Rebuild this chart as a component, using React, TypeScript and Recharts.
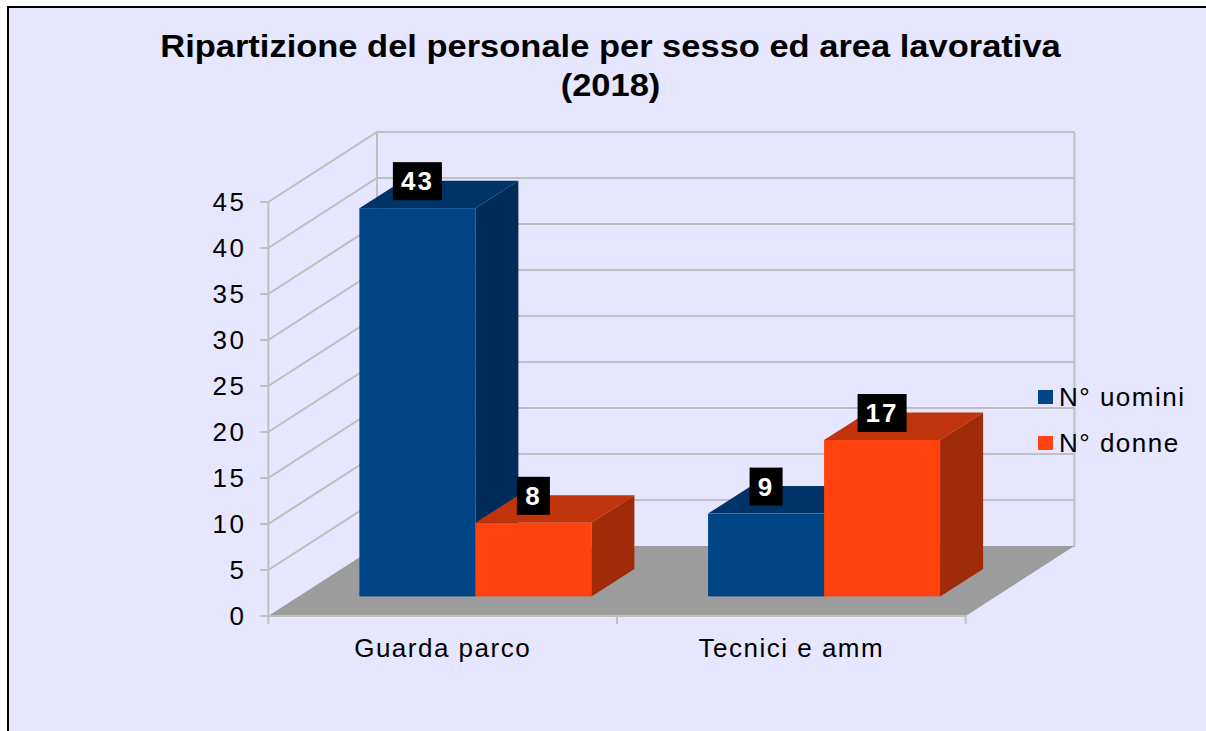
import { Bar, BarChart, LabelList, Legend, ReferenceLine, XAxis, YAxis } from "recharts";

const categories = ["Guarda parco", "Tecnici e amm"];
const uomini = [42.2, 9];
const donne = [8, 17];
// printed labels: the first blue bar is drawn a bit shorter than its label says
const uominiLabels = ["43", "9"];
const donneLabels = ["8", "17"];
const yTicks = [0, 5, 10, 15, 20, 25, 30, 35, 40, 45];

const data = categories.map((name, i) => ({
  name,
  uomini: uomini[i],
  donne: donne[i],
  uominiLabel: uominiLabels[i],
  donneLabel: donneLabels[i],
}));

const BG = "#e6e6ff";
const GRID = "#bfbfbf";
const FLOOR = "#9c9c9c";
const FONT = "'Liberation Sans', Arial, sans-serif";

// perspective offsets, wall = full depth of the box, bar = where bars stand
const WALL_DX = 108.7;
const WALL_DY = -70;
const BAR_DX = 33.2;
const BAR_DY = -19.6;
const DEPTH_DX = 43;
const DEPTH_DY = -27.5;

function WallLine(props: any) {
  const { x1, y1, x2 } = props;
  return (
    <polyline
      points={`${x1},${y1} ${x1 + WALL_DX},${y1 + WALL_DY} ${x2 + WALL_DX},${y1 + WALL_DY}`}
      fill="none"
      stroke={GRID}
      strokeWidth={2}
    />
  );
}

function Floor(props: any) {
  const { x1, y1, x2 } = props;
  const top = y1 + WALL_DY;
  const mid = (x1 + x2) / 2;
  return (
    <g>
      <polygon
        points={`${x1},${y1} ${x1 + WALL_DX},${top} ${x2 + WALL_DX},${top} ${x2},${y1}`}
        fill={FLOOR}
      />
      <line x1={x1} y1={y1} x2={x2} y2={y1} stroke={GRID} strokeWidth={2} />
      {[x1, mid, x2].map((x) => (
        <line key={x} x1={x} y1={y1} x2={x} y2={y1 + 8} stroke={GRID} strokeWidth={2} />
      ))}
    </g>
  );
}

function BackEdges(props: any) {
  const { x1, y1, x2 } = props;
  const top = y1 + WALL_DY;
  const bottom = top + 416 - 1;
  return (
    <g stroke={GRID} strokeWidth={2} fill="none">
      <line x1={x1 + WALL_DX} y1={top} x2={x1 + WALL_DX} y2={bottom} />
      <line x1={x2 + WALL_DX} y1={top} x2={x2 + WALL_DX} y2={bottom} />
    </g>
  );
}

function Box3D(props: any) {
  const { x, y, width, height, fill, topFill, sideFill } = props;
  const l = x + BAR_DX;
  const r = l + width;
  const t = y + BAR_DY;
  const b = t + height;
  return (
    <g>
      <polygon points={`${l},${t} ${l + DEPTH_DX},${t + DEPTH_DY} ${r + DEPTH_DX},${t + DEPTH_DY} ${r},${t}`} fill={topFill} />
      <polygon points={`${r},${t} ${r + DEPTH_DX},${t + DEPTH_DY} ${r + DEPTH_DX},${b + DEPTH_DY} ${r},${b}`} fill={sideFill} />
      <rect x={l} y={t} width={width} height={height} fill={fill} />
    </g>
  );
}

function ValueTag(props: any) {
  const box = props.viewBox ?? props;
  const text = String(props.value);
  const cx = box.x + box.width / 2 + BAR_DX;
  const cy = box.y + BAR_DY - 27;
  const w = text.length > 1 ? 49 : 33;
  return (
    <g>
      <rect x={cx - w / 2} y={cy - 19} width={w} height={38} fill="#000" />
      <text
        x={cx}
        y={cy + 9}
        textAnchor="middle"
        fill="#fff"
        fontFamily={FONT}
        fontWeight="bold"
        fontSize={26}
        letterSpacing={2}
      >
        {text}
      </text>
    </g>
  );
}

function LegendBox({ payload }: any) {
  return (
    <div style={{ fontFamily: FONT, fontSize: 26, letterSpacing: 1.5, color: "#000" }}>
      {(payload ?? []).map((p: any) => (
        <div key={p.value} style={{ display: "flex", alignItems: "center", height: 46 }}>
          <span style={{ width: 15, height: 14, background: p.color, marginRight: 6 }} />
          <span>{p.value}</span>
        </div>
      ))}
    </div>
  );
}

export default function App() {
  return (
    <div style={{ position: "absolute", left: 0, top: 0, width: 1206, height: 731, background: "#fff", overflow: "hidden" }}>
      <div
        style={{
          position: "absolute",
          left: 7,
          top: 6,
          width: 1210,
          height: 740,
          background: BG,
          border: "2px solid #000",
        }}
      />
      <div
        style={{
          position: "absolute",
          left: 0,
          top: 27,
          width: 1221,
          textAlign: "center",
          fontFamily: FONT,
          fontWeight: "bold",
          fontSize: 31,
          lineHeight: "39px",
          transform: "scaleX(1.112)",
          color: "#000",
        }}
      >
        Ripartizione del personale per sesso ed area lavorativa
        <br />
        (2018)
      </div>
      <div style={{ position: "absolute", left: 0, top: 0 }}>
        <BarChart
          width={1206}
          height={731}
          data={data}
          margin={{ top: 202, right: 240.3, bottom: 85, left: 208.3 }}
          barCategoryGap="16.6%"
          barGap={0}
        >
          <XAxis
            dataKey="name"
            height={30}
            axisLine={false}
            tickLine={false}
            tickMargin={17}
            tick={{ fontFamily: FONT, fontSize: 26, letterSpacing: 1.5, fill: "#000" }}
            interval={0}
          />
          <YAxis
            width={60}
            domain={[0, 45]}
            ticks={yTicks}
            interval={0}
            stroke={GRID}
            strokeWidth={2}
            tickSize={8}
            tickMargin={14}
            tick={{ fontFamily: FONT, fontSize: 26, letterSpacing: 2.4, fill: "#000" }}
          />
          {yTicks
            .filter((t) => t > 0)
            .map((t) => (
              <ReferenceLine key={t} y={t} shape={WallLine} zIndex={-200} />
            ))}
          <ReferenceLine y={45} shape={BackEdges} zIndex={-200} />
          <ReferenceLine y={0} shape={Floor} zIndex={-150} />
          <Legend
            layout="vertical"
            align="center"
            verticalAlign="middle"
            itemSorter={null}
            content={<LegendBox />}
            wrapperStyle={{ left: 1038, top: 374, width: 168 }}
          />
          <Bar
            dataKey="uomini"
            name="N° uomini"
            fill="#004586"
            isAnimationActive={false}
            shape={(p: any) => <Box3D {...p} topFill="#003366" sideFill="#002c5a" />}
          >
            <LabelList dataKey="uominiLabel" content={ValueTag} />
          </Bar>
          <Bar
            dataKey="donne"
            name="N° donne"
            fill="#ff420e"
            isAnimationActive={false}
            shape={(p: any) => <Box3D {...p} topFill="#c1330b" sideFill="#a02b08" />}
          >
            <LabelList dataKey="donneLabel" content={ValueTag} />
          </Bar>
        </BarChart>
      </div>
    </div>
  );
}
